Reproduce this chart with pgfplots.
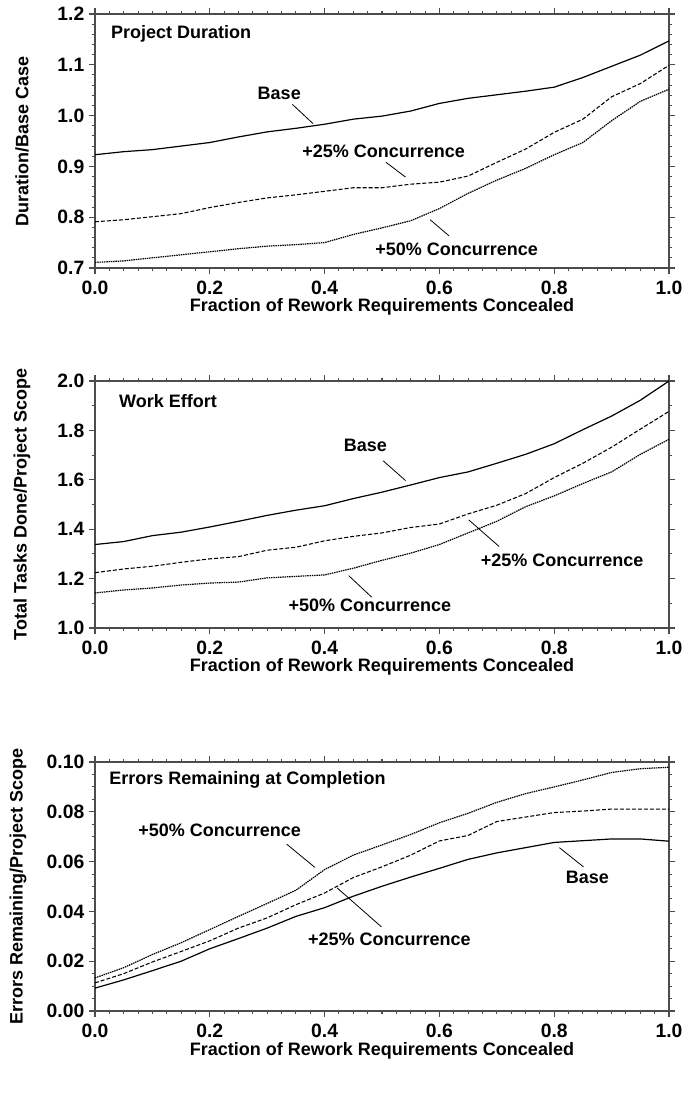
\documentclass[border=0pt]{standalone}
\usepackage{fontspec}
\setmainfont{Liberation Sans}
\usepackage{pgfplots}
\pgfplotsset{compat=1.18}

\pgfplotstableread{
x     base   c25    c50
0.00  0.923  0.791  0.711
0.05  0.929  0.795  0.714
0.10  0.933  0.801  0.720
0.15  0.940  0.807  0.726
0.20  0.947  0.819  0.732
0.25  0.958  0.829  0.738
0.30  0.968  0.838  0.743
0.35  0.975  0.844  0.746
0.40  0.983  0.851  0.750
0.45  0.993  0.858  0.766
0.50  0.999  0.858  0.779
0.55  1.009  0.865  0.793
0.60  1.024  0.869  0.817
0.65  1.034  0.881  0.847
0.70  1.041  0.908  0.873
0.75  1.048  0.934  0.896
0.80  1.056  0.967  0.923
0.85  1.075  0.993  0.947
0.90  1.097  1.037  0.990
0.95  1.119  1.063  1.028
1.00  1.147  1.099  1.052
}\duration

\pgfplotstableread{
x     base   c25    c50
0.00  1.338  1.224  1.142
0.05  1.350  1.239  1.154
0.10  1.374  1.250  1.162
0.15  1.388  1.266  1.174
0.20  1.409  1.280  1.182
0.25  1.432  1.289  1.186
0.30  1.456  1.315  1.203
0.35  1.477  1.327  1.209
0.40  1.495  1.353  1.215
0.45  1.524  1.371  1.242
0.50  1.550  1.385  1.274
0.55  1.579  1.407  1.303
0.60  1.609  1.421  1.338
0.65  1.632  1.462  1.385
0.70  1.667  1.497  1.432
0.75  1.703  1.544  1.491
0.80  1.746  1.609  1.535
0.85  1.803  1.667  1.585
0.90  1.858  1.732  1.632
0.95  1.922  1.805  1.703
1.00  2.000  1.877  1.764
}\effort

\pgfplotstableread{
x     base    c25     c50
0.00  0.0092  0.0113  0.0133
0.05  0.0125  0.0150  0.0174
0.10  0.0162  0.0197  0.0227
0.15  0.0200  0.0239  0.0274
0.20  0.0250  0.0282  0.0327
0.25  0.0291  0.0333  0.0380
0.30  0.0333  0.0374  0.0432
0.35  0.0380  0.0427  0.0485
0.40  0.0415  0.0474  0.0568
0.45  0.0461  0.0536  0.0626
0.50  0.0501  0.0579  0.0667
0.55  0.0538  0.0626  0.0709
0.60  0.0573  0.0683  0.0756
0.65  0.0609  0.0705  0.0794
0.70  0.0635  0.0761  0.0838
0.75  0.0656  0.0779  0.0873
0.80  0.0677  0.0797  0.0900
0.85  0.0684  0.0803  0.0928
0.90  0.0691  0.0811  0.0958
0.95  0.0691  0.0811  0.0973
1.00  0.0682  0.0811  0.0979
}\errors

\tikzset{
  annot/.style={font=\fontsize{13.5}{16}\selectfont\bfseries},
  lead/.style={black, line width=0.6pt},
}
\pgfplotsset{
  panel/.style={
    scale only axis, width=430.5pt,
    xmin=0, xmax=1,
    xtick={0,0.2,0.4,0.6,0.8,1}, minor x tick num=7,
    xticklabel style={yshift=-1.5pt, /pgf/number format/.cd,fixed,fixed zerofill,precision=1},
    tick align=outside,
    major tick length=4.5pt, minor tick length=2.5pt,
    every tick/.style={black!70, line width=0.8pt},
    axis line style={black!70, line width=1pt},
    /pgf/number format/assume math mode=true,
    tick label style={font=\fontsize{14.5}{16}\selectfont\bfseries},
    xlabel={Fraction of Rework Requirements Concealed},
    every axis x label/.style={at={(axis description cs:0.5,0)}, anchor=center,
      yshift=-29.5pt, font=\fontsize{13.5}{16}\selectfont\bfseries},
    every axis y label/.style={at={(axis description cs:0,0.5)}, rotate=90, anchor=center,
      yshift=54.75pt, font=\fontsize{13.5}{16}\selectfont\bfseries},
    clip=false,
  },
  basel/.style={black, line width=0.9pt},
  c25l/.style={black, line width=0.8pt, dash pattern=on 3pt off 1.5pt},
  c50l/.style={black, line width=0.9pt, dash pattern=on 1.1pt off 0.6pt},
}

\begin{document}
\begin{tikzpicture}
\useasboundingbox (0,0) rectangle (512.25pt,-819.75pt);

% Panel 1
\begin{axis}[panel, at={(71.25pt,-10.5pt)}, anchor=north west, height=190.5pt,
  ymin=0.7, ymax=1.2, ytick={0.7,0.8,0.9,1.0,1.1,1.2}, minor y tick num=4,
  yticklabel style={/pgf/number format/.cd,fixed,fixed zerofill,precision=1},
  ylabel={Duration/Base Case}]
\addplot[basel] table[x=x,y=base] {\duration};
\addplot[c25l] table[x=x,y=c25] {\duration};
\addplot[c50l] table[x=x,y=c50] {\duration};
\node[annot, anchor=west] at (axis cs:0.02,1.16) {Project Duration};
\node[annot] at (axis cs:0.321,1.044) {Base};
\draw[lead] (axis cs:0.344,1.022) -- (axis cs:0.380,0.984);
\node[annot] at (axis cs:0.503,0.929) {+25\% Concurrence};
\draw[lead] (axis cs:0.507,0.908) -- (axis cs:0.541,0.879);
\node[annot] at (axis cs:0.630,0.736) {+50\% Concurrence};
\draw[lead] (axis cs:0.584,0.795) -- (axis cs:0.617,0.763);
\end{axis}

% Panel 2
\begin{axis}[panel, at={(71.25pt,-285.75pt)}, anchor=north west, height=185.25pt,
  ymin=1.0, ymax=2.0, ytick={1.0,1.2,1.4,1.6,1.8,2.0}, minor y tick num=1,
  yticklabel style={/pgf/number format/.cd,fixed,fixed zerofill,precision=1},
  ylabel={Total Tasks Done/Project Scope}]
\addplot[basel] table[x=x,y=base] {\effort};
\addplot[c25l] table[x=x,y=c25] {\effort};
\addplot[c50l] table[x=x,y=c50] {\effort};
\node[annot, anchor=west] at (axis cs:0.034,1.918) {Work Effort};
\node[annot] at (axis cs:0.471,1.738) {Base};
\draw[lead] (axis cs:0.502,1.677) -- (axis cs:0.541,1.597);
\node[annot] at (axis cs:0.814,1.276) {+25\% Concurrence};
\draw[lead] (axis cs:0.651,1.438) -- (axis cs:0.704,1.330);
\node[annot] at (axis cs:0.479,1.092) {+50\% Concurrence};
\draw[lead] (axis cs:0.442,1.212) -- (axis cs:0.482,1.125);
\end{axis}

% Panel 3
\begin{axis}[panel, at={(71.25pt,-571.5pt)}, anchor=north west, height=186.75pt,
  ymin=0, ymax=0.1, ytick={0,0.02,0.04,0.06,0.08,0.1}, minor y tick num=3,
  yticklabel style={/pgf/number format/.cd,fixed,fixed zerofill,precision=2},
  ylabel={Errors Remaining/Project Scope},
  every axis y label/.append style={yshift=3pt}]
\addplot[basel] table[x=x,y=base] {\errors};
\addplot[c25l] table[x=x,y=c25] {\errors};
\addplot[c50l] table[x=x,y=c50] {\errors};
\node[annot, anchor=west] at (axis cs:0.017,0.093) {Errors Remaining at Completion};
\node[annot] at (axis cs:0.217,0.0726) {+50\% Concurrence};
\draw[lead] (axis cs:0.334,0.067) -- (axis cs:0.383,0.0577);
\node[annot] at (axis cs:0.513,0.0288) {+25\% Concurrence};
\draw[lead] (axis cs:0.422,0.0494) -- (axis cs:0.499,0.0338);
\node[annot] at (axis cs:0.858,0.0536) {Base};
\draw[lead] (axis cs:0.809,0.0656) -- (axis cs:0.851,0.0579);
\end{axis}
\end{tikzpicture}
\end{document}
